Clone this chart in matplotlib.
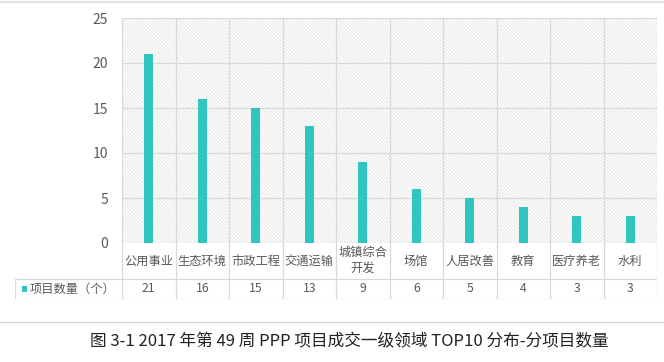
import numpy as np
import matplotlib.pyplot as plt
from matplotlib.patches import Rectangle

plt.rcParams['font.family'] = ['Noto Sans CJK SC', 'DejaVu Sans']
plt.rcParams['hatch.linewidth'] = 0.5

categories = ['公用事业', '生态环境', '市政工程', '交通运输', '城镇综合\n开发',
              '场馆', '人居改善', '教育', '医疗养老', '水利']
values = [21, 16, 15, 13, 9, 6, 5, 4, 3, 3]
series_name = '项目数量（个）'
caption = '图 3-1 2017 年第 49 周 PPP 项目成交一级领域 TOP10 分布-分项目数量'

bar_color = '#2fc5c1'
grid_color = '#d9d9d9'
text_color = '#595959'

W, H = 664, 362
fig = plt.figure(figsize=(W / 100, H / 100), dpi=100)

def fx(px):
    return px / W

def fy(py):
    return 1 - py / H

left, right, top, bottom = 122, 657, 18, 243
ax = fig.add_axes([fx(left), fy(bottom), fx(right - left), (bottom - top) / H])
n = len(categories)
x = np.arange(n)
ax.set_xlim(-0.5, n - 0.5)
ax.set_ylim(0, 25)
ax.add_patch(Rectangle((0, 0), 1, 1, transform=ax.transAxes, facecolor='white',
                       edgecolor='#dcdcdc', linewidth=0, hatch='\\' * 10, zorder=0))
for k in range(n + 1):
    ax.axvline(k - 0.5, color=grid_color, lw=0.9, zorder=1)
for v in range(0, 26, 5):
    ax.axhline(v, color=grid_color, lw=0.9, zorder=1)
ax.bar(x, values, width=0.17, color=bar_color, zorder=3)
ax.set_xticks([])
ax.set_yticks(range(0, 26, 5))
ax.tick_params(axis='y', length=0, pad=10, labelsize=10, labelcolor=text_color)
for s in ax.spines.values():
    s.set_visible(False)

# data table below the axes
tb_top, row_split, tb_bot, tb_left = 243, 279, 299, 15
unit = (right - left) / n
xmin = -0.5 - (left - tb_left) / unit
tax = fig.add_axes([fx(tb_left), fy(tb_bot), fx(right - tb_left), (tb_bot - tb_top) / H])
tax.set_xlim(xmin, n - 0.5)
tax.set_ylim(tb_bot - tb_top, 0)
tax.axis('off')
ys = row_split - tb_top
ye = tb_bot - tb_top
for k in range(n + 1):
    tax.plot([k - 0.5, k - 0.5], [0, ye], color=grid_color, lw=0.9)
tax.plot([xmin, xmin], [ys, ye], color=grid_color, lw=0.9)
tax.plot([xmin, n - 0.5], [ys, ys], color=grid_color, lw=0.9)
tax.plot([xmin, n - 0.5], [ye, ye], color=grid_color, lw=0.9)
for i, (c, v) in enumerate(zip(categories, values)):
    tax.text(i, ys / 2, c, ha='center', va='center', fontsize=8.8,
             color=text_color, linespacing=1.35)
    tax.text(i, (ys + ye) / 2, str(v), ha='center', va='center', fontsize=8.8,
             color=text_color)
tax.add_patch(Rectangle((xmin + 7 / unit, (ys + ye) / 2 - 3), 5.5 / unit, 6,
                        color=bar_color, lw=0))
tax.text(xmin + 15 / unit, (ys + ye) / 2, series_name, ha='left', va='center',
         fontsize=8.8, color=text_color)

# separators and caption
fig.add_artist(plt.Line2D([0, 1], [fy(2), fy(2)], color='#e3e3e3', lw=1.5))
fig.add_artist(plt.Line2D([0, 1], [fy(322), fy(322)], color='#d9d9d9', lw=1))
fig.text(fx(349), fy(342), caption, ha='center', va='center', fontsize=12,
         color='#222222')

fig.savefig('out.png', dpi=100, facecolor='white')
